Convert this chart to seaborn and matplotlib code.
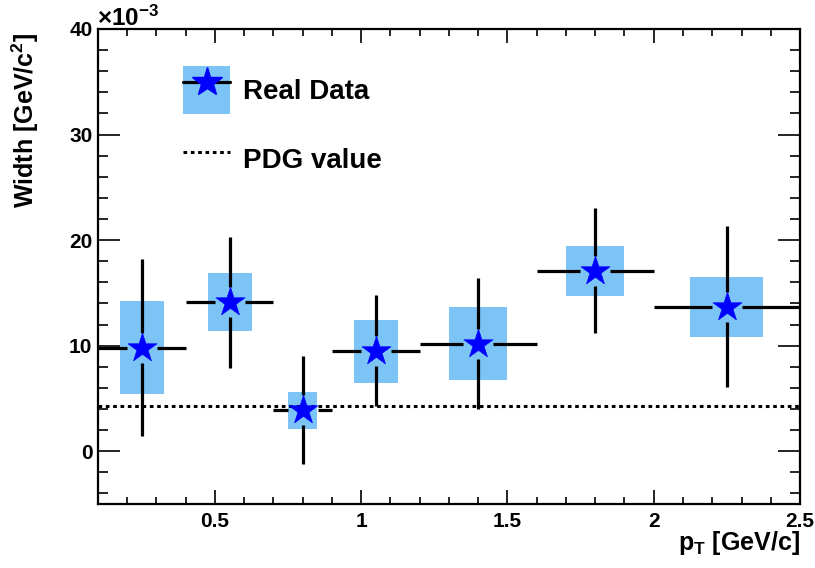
import matplotlib
matplotlib.use('Agg')
import matplotlib.pyplot as plt
from matplotlib.patches import Rectangle, Patch
from matplotlib.lines import Line2D
from matplotlib.ticker import MultipleLocator
import seaborn as sns
import pandas as pd

# pT bins (GeV/c) and fitted widths (x 10^-3 GeV/c^2)
pt = [0.25, 0.55, 0.80, 1.05, 1.40, 1.80, 2.25]
pt_err = [0.15, 0.15, 0.10, 0.15, 0.20, 0.20, 0.25]
width = [9.8, 14.1, 3.9, 9.5, 10.2, 17.1, 13.7]
stat_lo = [8.4, 6.2, 5.1, 5.2, 6.2, 5.9, 7.6]
stat_hi = [8.4, 6.2, 5.1, 5.3, 6.2, 5.9, 7.6]
sys_lo = [4.4, 2.75, 1.8, 3.0, 3.5, 2.35, 2.85]
sys_hi = [4.4, 2.75, 1.7, 2.95, 3.5, 2.35, 2.8]
sys_box_half = [0.075, 0.075, 0.05, 0.075, 0.10, 0.10, 0.125]
pdg_value = 4.26

df = pd.DataFrame({'pt': pt, 'width': width})

sns.set_style('ticks')
plt.rcParams['font.family'] = ['Liberation Sans', 'DejaVu Sans']
plt.rcParams['font.weight'] = 'bold'
plt.rcParams['text.color'] = 'black'
plt.rcParams['axes.labelcolor'] = 'black'
plt.rcParams['xtick.color'] = 'black'
plt.rcParams['ytick.color'] = 'black'
plt.rcParams['mathtext.fontset'] = 'custom'
plt.rcParams['mathtext.rm'] = 'Liberation Sans:bold'
plt.rcParams['mathtext.bf'] = 'Liberation Sans:bold'
plt.rcParams['mathtext.it'] = 'Liberation Sans:bold'

box_color = '#7cc4f6'

fig = plt.figure(figsize=(8.15, 5.68), dpi=100)
ax = fig.add_axes([0.1202, 0.1127, 0.8614, 0.8363])
ax.set_xlim(0.1, 2.5)
ax.set_ylim(-5, 40)

# systematic boxes
for x, y, lo, hi, hw in zip(pt, width, sys_lo, sys_hi, sys_box_half):
    ax.add_patch(Rectangle((x - hw, y - lo), 2 * hw, lo + hi,
                           facecolor=box_color, edgecolor='none', zorder=1))

# PDG line
ax.axhline(pdg_value, color='black', lw=2.2, ls=(0, (1.2, 1.2)), zorder=2)

# stat errors with a gap around the marker (ROOT style)
gap_y = 15 * 45 / 475
gap_x = 15 * 2.4 / 702
for x, y, xe, lo, hi in zip(pt, width, pt_err, stat_lo, stat_hi):
    ax.vlines(x, y + gap_y, y + hi, color='black', lw=2.3, zorder=3)
    ax.vlines(x, y - lo, y - gap_y, color='black', lw=2.3, zorder=3)
    ax.hlines(y, x - xe, x - gap_x, color='black', lw=2.3, zorder=3)
    ax.hlines(y, x + gap_x, x + xe, color='black', lw=2.3, zorder=3)

sns.scatterplot(data=df, x='pt', y='width', marker='*', s=480, color='blue',
                edgecolor='blue', linewidth=0.5, zorder=4, ax=ax, legend=False)

ax.set_xlabel('')
ax.set_ylabel('')
ax.xaxis.set_minor_locator(MultipleLocator(0.1))
ax.yaxis.set_major_locator(MultipleLocator(10))
ax.yaxis.set_minor_locator(MultipleLocator(2))
ax.set_xticks([0.5, 1, 1.5, 2, 2.5])
ax.set_xticklabels(['0.5', '1', '1.5', '2', '2.5'])
ax.tick_params(axis='x', which='major', direction='in', length=10, width=1.2,
               top=True, bottom=True, labelsize=15, pad=6)
ax.tick_params(axis='x', which='minor', direction='in', length=5, width=1.2,
               top=True, bottom=True)
ax.tick_params(axis='y', which='major', direction='in', length=16, width=1.2,
               left=True, right=True, labelsize=15, pad=4)
ax.tick_params(axis='y', which='minor', direction='in', length=7.5, width=1.2,
               left=True, right=True)
for lab in ax.get_xticklabels() + ax.get_yticklabels():
    lab.set_fontweight('bold')
for sp in ax.spines.values():
    sp.set_linewidth(1.6)
    sp.set_color('black')

fig.text(25 / 815, 1 - 33 / 568, r'Width [GeV/c$^{2}$]', rotation=90,
         ha='center', va='top', fontsize=18, fontweight='bold')
fig.text(800 / 815, 1 - 543 / 568, r'p$_{\rm T}$ [GeV/c]',
         ha='right', va='center', fontsize=18, fontweight='bold')
fig.text(97 / 815, 1 - 26 / 568, r'×10$^{-3}$', ha='left', va='baseline',
         fontsize=17.5, fontweight='bold')

data_handle = (Patch(facecolor=box_color, edgecolor='none'),
               Line2D([], [], color='black', lw=2.3, marker='*', markersize=22,
                      markerfacecolor='blue', markeredgecolor='blue'))
pdg_handle = Line2D([], [], color='black', lw=2.2, ls=(0, (1.2, 1.2)))
ax.legend([data_handle, pdg_handle], ['Real Data', 'PDG value'],
          loc='upper left', bbox_to_anchor=(0.121, 0.922), frameon=False,
          borderpad=0, borderaxespad=0, handlelength=1.7,
          handleheight=2.3, handletextpad=0.45, labelspacing=0.75,
          prop={'weight': 'bold', 'size': 20})

fig.savefig('out.png', dpi=100)
